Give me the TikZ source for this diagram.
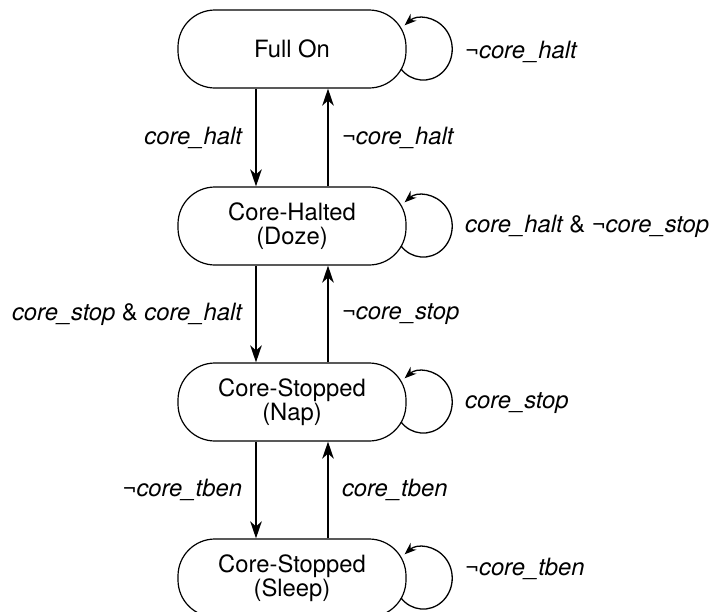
\documentclass[tikz,border=0pt]{standalone}
\usepackage{fontspec}
\setmainfont{TeX Gyre Heros}
\usetikzlibrary{arrows.meta,positioning,calc}
\begin{document}
\begin{tikzpicture}[x=1pt,y=1pt,
  state/.style={draw, line width=1.2pt, rounded corners=37pt, minimum width=228pt, minimum height=78pt, inner sep=0pt, align=center, font=\fontsize{23.8}{24}\selectfont},
  trans/.style={line width=2pt, -{Stealth[length=17pt,width=11.5pt,inset=5pt]}},
  loopar/.style={line width=1.3pt, -{Stealth[length=12pt,width=9pt,inset=4pt]}},
  lbl/.style={font=\fontsize{23.8}{26}\selectfont, inner sep=0pt}]
\useasboundingbox (0,0) rectangle (715,-611);
\node[state] (full) at (292,-49) {Full On};
\node[state] (doze) at (292,-226) {Core-Halted\\(Doze)};
\node[state] (nap) at (292,-402) {Core-Stopped\\(Nap)};
\node[state] (sleep) at (292,-578) {Core-Stopped\\(Sleep)};
% vertical transitions
\draw[trans] ([xshift=-36pt]full.south) -- node[lbl, left=13pt] {\itshape core\_halt} ([xshift=-36pt]doze.north);
\draw[trans] ([xshift=36pt]doze.north) -- node[lbl, right=13pt] {¬\itshape core\_halt} ([xshift=36pt]full.south);
\draw[trans] ([xshift=-36pt]doze.south) -- node[lbl, left=13pt] {{\itshape core\_stop} \& {\itshape core\_halt}} ([xshift=-36pt]nap.north);
\draw[trans] ([xshift=36pt]nap.north) -- node[lbl, right=13pt] {¬\itshape core\_stop} ([xshift=36pt]doze.south);
\draw[trans] ([xshift=-36pt]nap.south) -- node[lbl, left=13pt] {¬\itshape core\_tben} ([xshift=-36pt]sleep.north);
\draw[trans] ([xshift=36pt]sleep.north) -- node[lbl, right=13pt] {\itshape core\_tben} ([xshift=36pt]nap.south);
% self loops
\draw[loopar] ([shift={(109,-20)}]full.center) arc[start angle=220, end angle=490, x radius=29, y radius=31];
\draw[loopar] ([shift={(109,-20)}]doze.center) arc[start angle=220, end angle=490, x radius=29, y radius=31];
\draw[loopar] ([shift={(109,-20)}]nap.center) arc[start angle=220, end angle=490, x radius=29, y radius=31];
\draw[loopar] ([shift={(109,-20)}]sleep.center) arc[start angle=220, end angle=490, x radius=29, y radius=31];
% loop labels
\node[lbl, anchor=west] (lfull) at ([shift={(173,-2.5)}]full.center) {¬\itshape core\_halt};
\node[lbl, anchor=west] (ldoze) at ([shift={(173,-0.5)}]doze.center) {{\itshape core\_halt} \& ¬{\itshape core\_stop}};
\node[lbl, anchor=west] (lnap) at ([shift={(173,-1.5)}]nap.center) {\itshape core\_stop};
\node[lbl, anchor=west] (lsleep) at ([shift={(173,9.5)}]sleep.center) {¬\itshape core\_tben};
\end{tikzpicture}
\end{document}
